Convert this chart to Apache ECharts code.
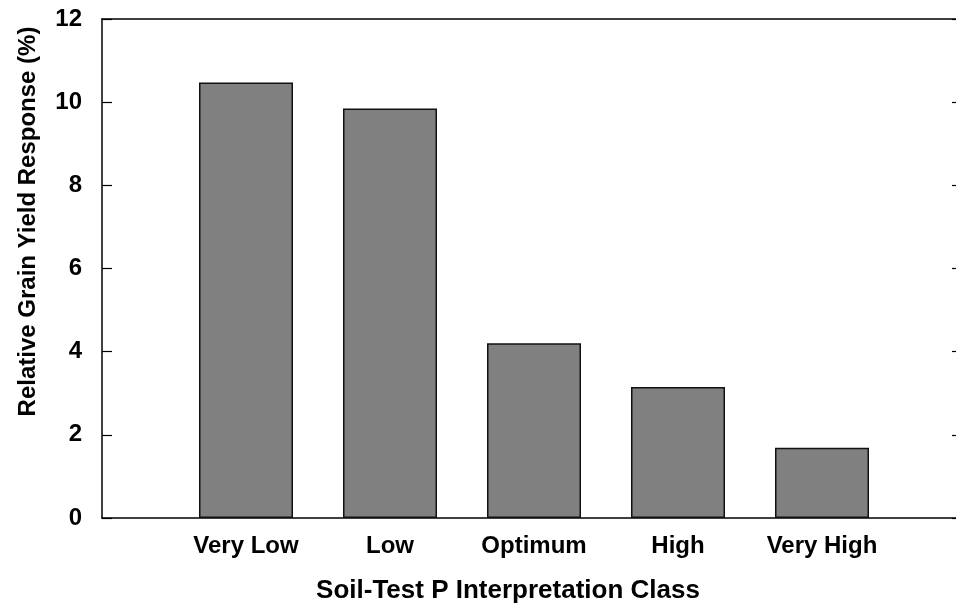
<!DOCTYPE html>
<html>
<head>
<meta charset="utf-8">
<script src="https://cdn.jsdelivr.net/npm/echarts@6/dist/echarts.min.js"></script>
<style>
html,body{margin:0;padding:0;background:#fff;}
#chart{width:956px;height:610px;}
</style>
</head>
<body>
<div id="chart"></div>
<script>
var categories = ['Very Low', 'Low', 'Optimum', 'High', 'Very High'];
var values = [10.47, 9.85, 4.2, 3.15, 1.69];
var yTicks = [0, 2, 4, 6, 8, 10, 12];
var xTitle = 'Soil-Test P Interpretation Class';
var yTitle = 'Relative Grain Yield Response (%)';

// pad with empty slots on both ends (axis spans from slot 0 to slot 6)
var axisCats = [''].concat(categories, ['']);
var axisVals = [null].concat(values, [null]);

var FONT = '"Liberation Sans", Arial, Helvetica, sans-serif';
var chart = echarts.init(document.getElementById('chart'));
chart.setOption({
  backgroundColor: '#ffffff',
  animation: false,
  grid: { left: 102, top: 19, width: 864, height: 499, containLabel: false, outerBoundsMode: 'none' },
  xAxis: [{
    type: 'category',
    data: axisCats,
    boundaryGap: false,
    position: 'bottom',
    axisLine: { show: true, onZero: false, lineStyle: { color: '#000', width: 1.5 } },
    axisTick: { show: false },
    splitLine: { show: false },
    axisLabel: { interval: 0, color: '#000', fontFamily: FONT, fontWeight: 'bold', fontSize: 24, margin: 16 },
    name: xTitle,
    nameLocation: 'middle',
    nameGap: 60,
    nameTextStyle: { color: '#000', fontFamily: FONT, fontWeight: 'bold', fontSize: 26, padding: [0, 52, 0, 0] }
  }, {
    type: 'category',
    data: axisCats,
    boundaryGap: false,
    position: 'top',
    axisLine: { show: true, onZero: false, lineStyle: { color: '#000', width: 1.5 } },
    axisTick: { show: false },
    axisLabel: { show: false },
    splitLine: { show: false }
  }],
  yAxis: [{
    type: 'value',
    min: yTicks[0],
    max: yTicks[yTicks.length - 1],
    interval: yTicks[1] - yTicks[0],
    position: 'left',
    axisLine: { show: true, onZero: false, lineStyle: { color: '#000', width: 1.5 } },
    axisTick: { show: true, inside: true, length: 10, lineStyle: { color: '#000', width: 1.2 } },
    splitLine: { show: false },
    axisLabel: { color: '#000', fontFamily: FONT, fontWeight: 'bold', fontSize: 24, margin: 20 },
    name: yTitle,
    nameLocation: 'middle',
    nameGap: 62,
    nameTextStyle: { color: '#000', fontFamily: FONT, fontWeight: 'bold', fontSize: 24, padding: [0, 0, 0, 94] }
  }, {
    type: 'value',
    min: yTicks[0],
    max: yTicks[yTicks.length - 1],
    interval: yTicks[1] - yTicks[0],
    position: 'right',
    axisLine: { show: true, onZero: false, lineStyle: { color: '#000', width: 1.5 } },
    axisTick: { show: true, inside: true, length: 14, lineStyle: { color: '#000', width: 1.2 } },
    splitLine: { show: false },
    axisLabel: { show: false }
  }],
  series: [{
    type: 'bar',
    xAxisIndex: 0,
    yAxisIndex: 0,
    data: axisVals,
    barWidth: 94,
    itemStyle: { color: '#808080', borderColor: '#111', borderWidth: 1.5 }
  }]
});
</script>
</body>
</html>
